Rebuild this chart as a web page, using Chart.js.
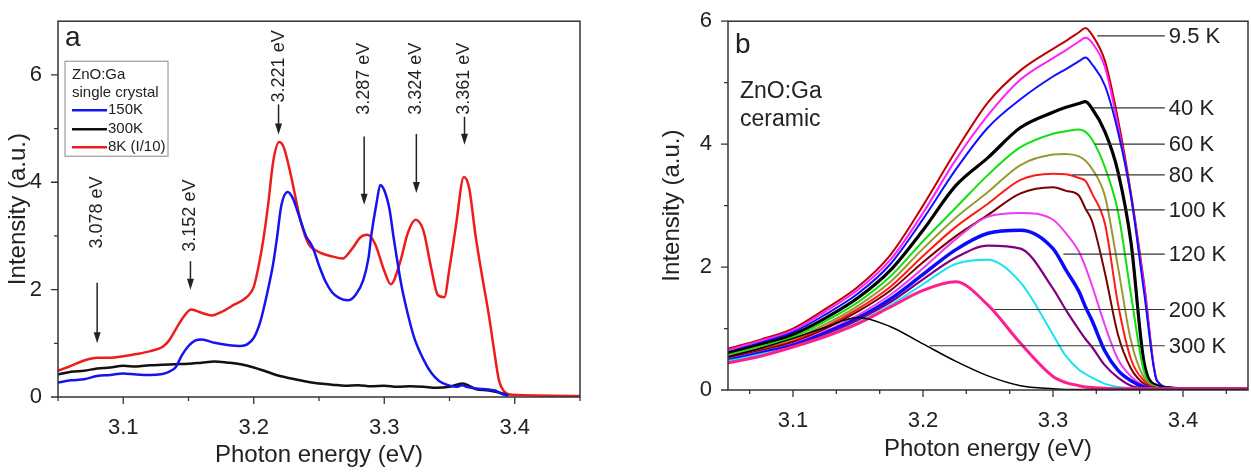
<!DOCTYPE html>
<html>
<head>
<meta charset="utf-8">
<script src="https://cdn.jsdelivr.net/npm/chart.js@4.4.1/dist/chart.umd.min.js"></script>
<style>
html, body { margin: 0; padding: 0; background: #fff; }
#wrapA { position: absolute; left: 0; top: 0; width: 626px; height: 474px; }
#wrapB { position: absolute; left: 626px; top: 0; width: 625px; height: 474px; }
</style>
</head>
<body>
<div id="wrapA"><canvas id="chartA" width="626" height="474"></canvas></div>
<div id="wrapB"><canvas id="chartB" width="625" height="474"></canvas></div>
<script>
// ---- panel a : single crystal ----
var e150 = [3.05,3.06,3.07,3.08,3.09,3.10,3.11,3.12,3.13,3.135,3.14,3.145,3.15,3.155,3.16,3.17,3.18,3.19,3.195,3.20,
            3.205,3.21,3.215,3.218,3.221,3.226,3.23,3.235,3.24,3.245,3.25,3.255,3.26,3.265,3.272,3.278,3.284,3.288,3.29,3.294,
            3.297,3.30,3.304,3.307,3.313,3.318,3.323,3.33,3.336,3.342,3.349,3.355,3.36,3.363,3.37,3.38,3.385,3.39,3.395];
var i150 = [0.27,0.31,0.33,0.39,0.41,0.44,0.42,0.41,0.43,0.47,0.55,0.78,0.95,1.05,1.07,1.01,0.97,0.95,0.98,1.1,
            1.4,1.9,2.5,3.0,3.55,3.82,3.7,3.35,3.0,2.8,2.45,2.15,1.95,1.85,1.8,1.9,2.18,2.6,3.0,3.6,
            3.95,3.85,3.5,3.0,2.1,1.55,1.1,0.7,0.45,0.3,0.22,0.19,0.22,0.19,0.16,0.14,0.12,0.06,0.02];

var e300 = [3.05,3.06,3.07,3.08,3.09,3.10,3.11,3.12,3.13,3.14,3.15,3.16,3.17,3.18,3.19,3.20,3.21,3.22,3.23,3.24,
            3.25,3.26,3.27,3.28,3.29,3.30,3.31,3.32,3.33,3.34,3.35,3.36,3.37,3.38,3.39,3.395];
var i300 = [0.42,0.47,0.49,0.53,0.55,0.58,0.57,0.59,0.60,0.61,0.62,0.64,0.66,0.64,0.61,0.55,0.47,0.39,0.34,0.29,
            0.25,0.23,0.21,0.22,0.20,0.21,0.19,0.20,0.19,0.17,0.19,0.25,0.15,0.12,0.07,0.03];

var e8 = [3.05,3.06,3.07,3.08,3.09,3.10,3.11,3.12,3.13,3.135,3.14,3.145,3.152,3.16,3.168,3.175,3.185,3.195,3.20,3.205,
          3.208,3.211,3.215,3.2195,3.223,3.228,3.236,3.242,3.25,3.26,3.268,3.275,3.282,3.287,3.293,3.30,3.305,3.312,3.318,3.324,
          3.33,3.336,3.341,3.346,3.35,3.355,3.361,3.365,3.37,3.375,3.38,3.384,3.388,3.392,3.398,3.45];
var i8 = [0.49,0.58,0.68,0.73,0.73,0.76,0.8,0.85,0.93,1.05,1.25,1.45,1.63,1.57,1.52,1.58,1.72,1.87,2.05,2.6,
          3.04,3.58,4.4,4.75,4.65,4.18,3.27,2.85,2.7,2.62,2.58,2.75,2.98,3.02,2.85,2.35,2.1,2.5,3.05,3.3,
          3.1,2.4,1.9,1.86,2.4,3.2,4.1,3.9,3.0,2.25,1.55,0.9,0.3,0.1,0.04,0.02];

var seriesNamesA = ['150K', '300K', '8K (I/10)'];
var legendNotesA = ['ZnO:Ga', 'single crystal'];

// peak arrows (energy, where text starts, arrow top, arrow tip)
var peakLabels = ['3.078 eV', '3.152 eV', '3.221 eV', '3.287 eV', '3.324 eV', '3.361 eV'];
var peakEnergy = [3.080, 3.1515, 3.219, 3.2846, 3.3246, 3.3615];
var labelBase  = [2.73, 2.67, 5.45, 5.22, 5.22, 5.22];
var arrowTop   = [2.13, 2.53, 5.45, 4.85, 4.9, 5.22];
var arrowTip   = [1.0, 2.0, 4.89, 3.58, 3.8, 4.7];

// ---- panel b : ceramic ----
var eGrid = [3.05,3.075,3.10,3.125,3.15,3.175,3.20,3.225,3.25,3.275,3.30,3.31,3.32,3.325,3.33,3.34,3.35,3.36,3.37,3.38,3.39,3.40,3.45];
var k9_5 = [0.67,0.82,1.0,1.32,1.68,2.2,3.0,3.88,4.68,5.2,5.55,5.68,5.82,5.89,5.78,5.35,4.4,3.2,1.75,0.15,0.04,0.02,0.02];
var k20  = [0.65,0.8,0.97,1.28,1.63,2.12,2.88,3.74,4.47,5.05,5.4,5.53,5.67,5.73,5.65,5.25,4.3,3.15,1.7,0.15,0.04,0.02,0.02];
var k30  = [0.62,0.77,0.94,1.23,1.57,2.05,2.78,3.58,4.27,4.73,5.1,5.22,5.35,5.41,5.3,4.95,4.2,3.15,1.6,0.15,0.04,0.02,0.02];
var k40  = [0.6,0.74,0.9,1.17,1.5,1.95,2.6,3.32,3.78,4.27,4.52,4.6,4.66,4.69,4.58,4.2,3.55,2.4,0.45,0.07,0.03,0.02,0.02];
var k60  = [0.57,0.71,0.86,1.12,1.43,1.85,2.42,2.96,3.5,3.95,4.17,4.21,4.24,4.2,4.08,3.62,2.9,1.55,0.3,0.05,0.02,0.02,0.02];
var k70  = [0.55,0.68,0.83,1.07,1.37,1.76,2.3,2.8,3.22,3.66,3.83,3.84,3.8,3.73,3.6,3.15,2.0,0.8,0.2,0.04,0.02,0.02,0.02];
var k80  = [0.53,0.66,0.8,1.03,1.32,1.68,2.18,2.65,3.03,3.42,3.52,3.51,3.45,3.4,3.2,2.7,1.4,0.5,0.15,0.03,0.02,0.02,0.02];
var k100 = [0.52,0.64,0.78,1.0,1.28,1.62,2.08,2.5,2.85,3.2,3.3,3.24,3.16,2.95,2.75,1.9,0.9,0.35,0.1,0.03,0.02,0.02,0.02];
var k110 = [0.5,0.62,0.75,0.96,1.22,1.55,1.98,2.45,2.82,2.88,2.77,2.55,2.25,2.0,1.7,1.05,0.5,0.22,0.07,0.03,0.02,0.02,0.02];
var k120 = [0.48,0.6,0.73,0.93,1.17,1.48,1.88,2.28,2.55,2.6,2.3,1.95,1.6,1.35,1.13,0.63,0.32,0.15,0.05,0.02,0.02,0.02,0.02];
var k150 = [0.46,0.58,0.71,0.9,1.14,1.43,1.8,2.15,2.35,2.3,1.65,1.3,0.98,0.83,0.7,0.4,0.2,0.07,0.03,0.02,0.02,0.02,0.02];
var k170 = [0.47,0.58,0.7,0.88,1.1,1.38,1.72,2.05,2.12,1.75,0.9,0.55,0.33,0.26,0.2,0.1,0.05,0.03,0.02,0.02,0.02,0.02,0.02];
var k200 = [0.44,0.55,0.7,0.87,1.08,1.35,1.62,1.76,1.38,0.76,0.22,0.12,0.07,0.05,0.04,0.03,0.02,0.02,0.02,0.02,0.02,0.02,0.02];
var k300 = [0.54,0.68,0.84,1.02,1.18,1.03,0.75,0.47,0.23,0.07,0.02,0.01,0.01,0.01,0.01,0.01,0.01,0.01,0.01,0.01,0.01,0.01,0.01];

var tempLabels  = ['9.5 K', '40 K', '60 K', '80 K', '100 K', '120 K', '200 K', '300 K'];
var tempLevel   = [5.76, 4.59, 4.0, 3.5, 2.93, 2.21, 1.31, 0.72];
var leaderStart = [3.334, 3.331, 3.332, 3.315, 3.326, 3.308, 3.255, 3.205];
var leaderEnd = 3.386;
var notesB = ['ZnO:Ga', 'ceramic'];

// axis ticks
var xMajor = [3.1, 3.2, 3.3, 3.4];
var xMinorA = [3.05, 3.15, 3.25, 3.35, 3.45];
var xMinorB = [3.0667, 3.1333, 3.1667, 3.2333, 3.2667, 3.3333, 3.3667, 3.4333];
var yMajor = [0, 2, 4, 6];
var yMinor = [1, 3, 5];

Chart.defaults.font.family = '"Liberation Sans", Arial, sans-serif';
Chart.defaults.color = '#222';

function pts(xs, ys) {
    return xs.map(function (x, i) { return { x: x, y: ys[i] }; });
}

function line(label, xs, ys, color, width) {
    return { label: label, data: pts(xs, ys), borderColor: color, borderWidth: width,
             showLine: true, pointRadius: 0, fill: false, cubicInterpolationMode: 'monotone' };
}

// box round the plot + outward tick marks
function drawFrame(chart, minX) {
    var ctx = chart.ctx, a = chart.chartArea, xs = chart.scales.x, ys = chart.scales.y;
    ctx.save();
    ctx.strokeStyle = '#333';
    ctx.lineWidth = 1.5;
    ctx.strokeRect(a.left, a.top, a.right - a.left, a.bottom - a.top);
    ctx.lineWidth = 1.3;
    ctx.beginPath();
    xMajor.forEach(function (v) { var p = xs.getPixelForValue(v); ctx.moveTo(p, a.bottom); ctx.lineTo(p, a.bottom + 7); });
    minX.forEach(function (v) { var p = xs.getPixelForValue(v); ctx.moveTo(p, a.bottom); ctx.lineTo(p, a.bottom + 4); });
    yMajor.forEach(function (v) { var p = ys.getPixelForValue(v); ctx.moveTo(a.left, p); ctx.lineTo(a.left - 7, p); });
    yMinor.forEach(function (v) { var p = ys.getPixelForValue(v); ctx.moveTo(a.left, p); ctx.lineTo(a.left - 4, p); });
    ctx.stroke();
    ctx.restore();
}

var decorA = {
    id: 'decorA',
    afterDatasetsDraw: function (chart) {
        var ctx = chart.ctx, a = chart.chartArea, xs = chart.scales.x, ys = chart.scales.y;
        drawFrame(chart, xMinorA);
        ctx.save();
        ctx.fillStyle = '#222';
        ctx.strokeStyle = '#222';
        // panel letter
        ctx.font = '28px "Liberation Sans", Arial, sans-serif';
        ctx.textBaseline = 'alphabetic';
        ctx.fillText('a', a.left + 7, a.top + 25);

        // peak arrows with vertical labels
        ctx.font = '18px "Liberation Sans", Arial, sans-serif';
        for (var i = 0; i < peakLabels.length; i++) {
            var px = xs.getPixelForValue(peakEnergy[i]);
            ctx.save();
            ctx.translate(px, ys.getPixelForValue(labelBase[i]));
            ctx.rotate(-Math.PI / 2);
            ctx.textAlign = 'left';
            ctx.textBaseline = 'middle';
            ctx.fillText(peakLabels[i], 2, 0);
            ctx.restore();
            var yt = ys.getPixelForValue(arrowTop[i]), yb = ys.getPixelForValue(arrowTip[i]);
            ctx.lineWidth = 1.5;
            ctx.beginPath();
            ctx.moveTo(px, yt);
            ctx.lineTo(px, yb - 8);
            ctx.stroke();
            ctx.beginPath();
            ctx.moveTo(px - 3.5, yb - 11);
            ctx.lineTo(px + 3.5, yb - 11);
            ctx.lineTo(px, yb);
            ctx.closePath();
            ctx.fill();
        }

        // legend box
        var x0 = a.left + 7, y0 = a.top + 40;
        ctx.fillStyle = '#fff';
        ctx.fillRect(x0, y0, 103, 95);
        ctx.strokeStyle = '#888';
        ctx.lineWidth = 1;
        ctx.strokeRect(x0, y0, 103, 95);
        ctx.fillStyle = '#222';
        ctx.font = '15px "Liberation Sans", Arial, sans-serif';
        ctx.textBaseline = 'middle';
        ctx.fillText(legendNotesA[0], x0 + 7, y0 + 14);
        ctx.fillText(legendNotesA[1], x0 + 7, y0 + 32);
        var rows = [49, 68, 86];
        chart.data.datasets.forEach(function (ds, k) {
            ctx.strokeStyle = ds.borderColor;
            ctx.lineWidth = 2.5;
            ctx.beginPath();
            ctx.moveTo(x0 + 7, y0 + rows[k]);
            ctx.lineTo(x0 + 42, y0 + rows[k]);
            ctx.stroke();
            ctx.fillText(seriesNamesA[k], x0 + 43, y0 + rows[k]);
        });
        ctx.restore();
    }
};

var decorB = {
    id: 'decorB',
    afterDatasetsDraw: function (chart) {
        var ctx = chart.ctx, a = chart.chartArea, xs = chart.scales.x, ys = chart.scales.y;
        drawFrame(chart, xMinorB);
        ctx.save();
        ctx.fillStyle = '#222';
        ctx.font = '28px "Liberation Sans", Arial, sans-serif';
        ctx.textBaseline = 'alphabetic';
        ctx.fillText('b', a.left + 7, a.top + 32);
        ctx.font = '23px "Liberation Sans", Arial, sans-serif';
        ctx.fillText(notesB[0], a.left + 12, a.top + 77);
        ctx.fillText(notesB[1], a.left + 12, a.top + 105);

        // temperature leaders
        ctx.font = '22px "Liberation Sans", Arial, sans-serif';
        ctx.textBaseline = 'middle';
        ctx.strokeStyle = '#333';
        ctx.lineWidth = 1.2;
        var xe = xs.getPixelForValue(leaderEnd);
        for (var i = 0; i < tempLabels.length; i++) {
            var py = ys.getPixelForValue(tempLevel[i]);
            ctx.beginPath();
            ctx.moveTo(xs.getPixelForValue(leaderStart[i]), py);
            ctx.lineTo(xe, py);
            ctx.stroke();
            ctx.fillText(tempLabels[i], xe + 4, py + 1);
        }
        ctx.restore();
    }
};

function axes(xHeight, yWidth, yMax) {
    return {
        x: {
            type: 'linear', min: 3.05, max: 3.45,
            grid: { display: false }, border: { display: false },
            afterBuildTicks: function (s) { s.ticks = xMajor.map(function (v) { return { value: v }; }); },
            afterFit: function (s) { s.height = xHeight; },
            ticks: { padding: 10, autoSkip: false, maxRotation: 0, font: { size: 22 },
                     callback: function (v) { return v.toFixed(1); } },
            title: { display: true, text: 'Photon energy (eV)', font: { size: 24 } }
        },
        y: {
            min: 0, max: yMax,
            grid: { display: false }, border: { display: false },
            afterBuildTicks: function (s) { s.ticks = yMajor.map(function (v) { return { value: v }; }); },
            afterFit: function (s) { s.width = yWidth; },
            ticks: { padding: 8, autoSkip: false, font: { size: 22 },
                     callback: function (v) { return String(v); } },
            title: { display: true, text: 'Intensity (a.u.)', font: { size: 24 } }
        }
    };
}

new Chart(document.getElementById('chartA'), {
    type: 'scatter',
    data: {
        datasets: [
            line(seriesNamesA[0], e150, i150, '#1414f0', 2.5),
            line(seriesNamesA[1], e300, i300, '#111111', 2.5),
            line(seriesNamesA[2], e8, i8, '#ee1c1c', 2.5)
        ]
    },
    options: {
        responsive: false,
        animation: false,
        layout: { padding: { top: 15, right: 46, bottom: 0, left: 0 } },
        plugins: { legend: { display: false }, tooltip: { enabled: false } },
        scales: axes(77, 58, 7)
    },
    plugins: [decorA]
});

new Chart(document.getElementById('chartB'), {
    type: 'scatter',
    data: {
        datasets: [
            line('300 K', eGrid, k300, '#000000', 1.5),
            line('200 K', eGrid, k200, '#ff1f8f', 3),
            line('170 K', eGrid, k170, '#19e3f0', 2),
            line('150 K', eGrid, k150, '#800080', 2.2),
            line('120 K', eGrid, k120, '#0a0aff', 3.5),
            line('110 K', eGrid, k110, '#f03cf0', 2),
            line('100 K', eGrid, k100, '#7a0000', 2),
            line('80 K', eGrid, k80, '#ff1a1a', 2),
            line('70 K', eGrid, k70, '#999933', 2),
            line('60 K', eGrid, k60, '#10e010', 2),
            line('40 K', eGrid, k40, '#000000', 3.2),
            line('30 K', eGrid, k30, '#1010ff', 2),
            line('20 K', eGrid, k20, '#ff20ff', 2),
            line('9.5 K', eGrid, k9_5, '#c00000', 2)
        ]
    },
    options: {
        responsive: false,
        animation: false,
        layout: { padding: { top: 15, right: 3, bottom: 6, left: 28 } },
        plugins: { legend: { display: false }, tooltip: { enabled: false } },
        scales: axes(78, 74, 6)
    },
    plugins: [decorB]
});
</script>
</body>
</html>
